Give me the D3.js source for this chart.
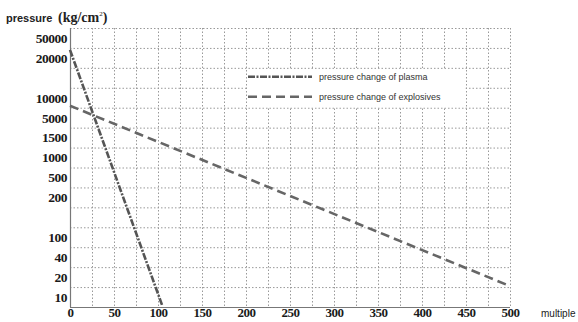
<!DOCTYPE html>
<html>
<head>
<meta charset="utf-8">
<script src="https://cdn.jsdelivr.net/npm/d3@7.9.0/dist/d3.min.js"></script>
<style>
  body { margin: 0; background: #fff; }
  svg { display: block; }
  .tick-label { font-family: "Liberation Serif", serif; font-weight: bold; font-size: 13.5px; fill: #1a1a1a; }
  .legend-text { font-family: "Liberation Sans", Arial, sans-serif; font-size: 9px; fill: #333; }
</style>
</head>
<body>
<svg id="chart" width="578" height="322"></svg>
<script>
// y tick labels (the printed axis is not evenly spaced, so each label has its own row)
const yTicks = [10, 20, 40, 100, 200, 500, 1000, 1500, 5000, 10000, 20000, 50000];
const yRows = [13, 12, 11, 10, 8, 7, 6, 5, 4, 3, 1, 0]; // row index of each label, counted from the top
const rowCount = 14;

// x ticks
const xTicks = [0, 50, 100, 150, 200, 250, 300, 350, 400, 450, 500];
const xGrid = d3.range(0, 501, 25);

// series
const plasmaX = [0, 105];
const plasmaP = [32000, 5.5];
const explosivesX = [0, 500];
const explosivesP = [8000, 15.5];

const svg = d3.select('#chart');
const plotLeft = 70, plotRight = 510, plotTop = 28, plotBottom = 307;

let x = d3.scaleLinear().domain([0, 500]).range([plotLeft, plotRight]);
let rowY = d3.scaleLinear().domain([0, rowCount]).range([plotTop, plotBottom]); // row boundaries
// piecewise scale: each pressure label sits in the middle of its row
let y = d3.scaleLinear()
  .domain(yTicks)
  .range(yRows.map(r => rowY(r + 0.5)));

// grid
let grid = svg.append('g').attr('stroke', '#999').attr('stroke-width', 1).attr('stroke-dasharray', '1.5,2');
d3.range(0, rowCount).forEach(r => {
  grid.append('line')
    .attr('x1', plotLeft).attr('x2', plotRight)
    .attr('y1', rowY(r) + 0.5).attr('y2', rowY(r) + 0.5);
});
xGrid.slice(1).forEach(v => {
  grid.append('line')
    .attr('x1', x(v) + 0.5).attr('x2', x(v) + 0.5)
    .attr('y1', plotTop).attr('y2', plotBottom);
});

// legend box hides the grid inside it (grid lines at 200/450 and rows 2..4 are its border)
svg.append('rect')
  .attr('x', x(200) + 1.5).attr('y', rowY(2) + 1.5)
  .attr('width', x(450) - x(200) - 2).attr('height', rowY(4) - rowY(2) - 2)
  .attr('fill', '#fff');

// axes lines
svg.append('line').attr('x1', plotLeft + 0.5).attr('x2', plotLeft + 0.5).attr('y1', plotTop).attr('y2', plotBottom)
  .attr('stroke', '#777').attr('stroke-width', 1.2);
svg.append('line').attr('x1', plotLeft).attr('x2', plotRight).attr('y1', plotBottom + 0.5).attr('y2', plotBottom + 0.5)
  .attr('stroke', '#777').attr('stroke-width', 1.2);

// y axis labels
let yAxis = svg.append('g')
  .attr('transform', `translate(${plotLeft},0)`)
  .call(d3.axisLeft(y).tickValues(yTicks).tickFormat(d3.format('d')).tickSize(0).tickPadding(3));
yAxis.select('.domain').remove();
yAxis.selectAll('text').attr('class', 'tick-label').attr('fill', null).style('letter-spacing', '-0.5px');

// x axis labels
let xAxis = svg.append('g')
  .attr('transform', `translate(0,${plotBottom})`)
  .call(d3.axisBottom(x).tickValues(xTicks).tickFormat(d3.format('d')).tickSize(0).tickPadding(1));
xAxis.select('.domain').remove();
xAxis.selectAll('text').attr('class', 'tick-label').attr('fill', null)
  .attr('dy', '0.66em').style('font-size', '13px').style('letter-spacing', '-0.5px');

// axis titles
let title = svg.append('text').attr('x', 6).attr('y', 22);
title.append('tspan').text('pressure')
  .attr('font-family', 'Liberation Sans, Arial, sans-serif').attr('font-size', 11).attr('font-weight', 'bold').attr('fill', '#222');
title.append('tspan').text(' (kg/cm').attr('dx', 2)
  .attr('font-family', 'Liberation Serif, serif').attr('font-size', 14).attr('font-weight', 'bold').attr('fill', '#222');
title.append('tspan').text('2').attr('dy', -6)
  .attr('font-family', 'Liberation Serif, serif').attr('font-size', 7).attr('fill', '#222');
title.append('tspan').text(')').attr('dy', 6)
  .attr('font-family', 'Liberation Serif, serif').attr('font-size', 14).attr('font-weight', 'bold').attr('fill', '#222');

svg.append('text').attr('x', 541).attr('y', 317).text('multiple')
  .attr('font-family', 'Liberation Sans, Arial, sans-serif').attr('font-size', 10).attr('fill', '#222');

// series
const line = d3.line().x(d => x(d[0])).y(d => y(d[1]));
const series = [
  { name: 'pressure change of plasma', xs: plasmaX, ps: plasmaP, color: '#555', width: 2.6, dash: '7,1.5,2,1.5' },
  { name: 'pressure change of explosives', xs: explosivesX, ps: explosivesP, color: '#666', width: 2.6, dash: '9,5' }
];

series.forEach(s => {
  svg.append('path')
    .attr('d', line(d3.zip(s.xs, s.ps)))
    .attr('fill', 'none')
    .attr('stroke', s.color)
    .attr('stroke-width', s.width)
    .attr('stroke-dasharray', s.dash);
});

// legend
series.forEach((s, i) => {
  let ly = rowY(2.5 + i) - 1;
  svg.append('line')
    .attr('x1', x(200) + 2).attr('x2', x(200) + 66)
    .attr('y1', ly).attr('y2', ly)
    .attr('stroke', s.color).attr('stroke-width', s.width).attr('stroke-dasharray', s.dash);
  svg.append('text')
    .attr('class', 'legend-text')
    .attr('x', x(200) + 73).attr('y', ly + 3)
    .text(s.name);
});
</script>
</body>
</html>
